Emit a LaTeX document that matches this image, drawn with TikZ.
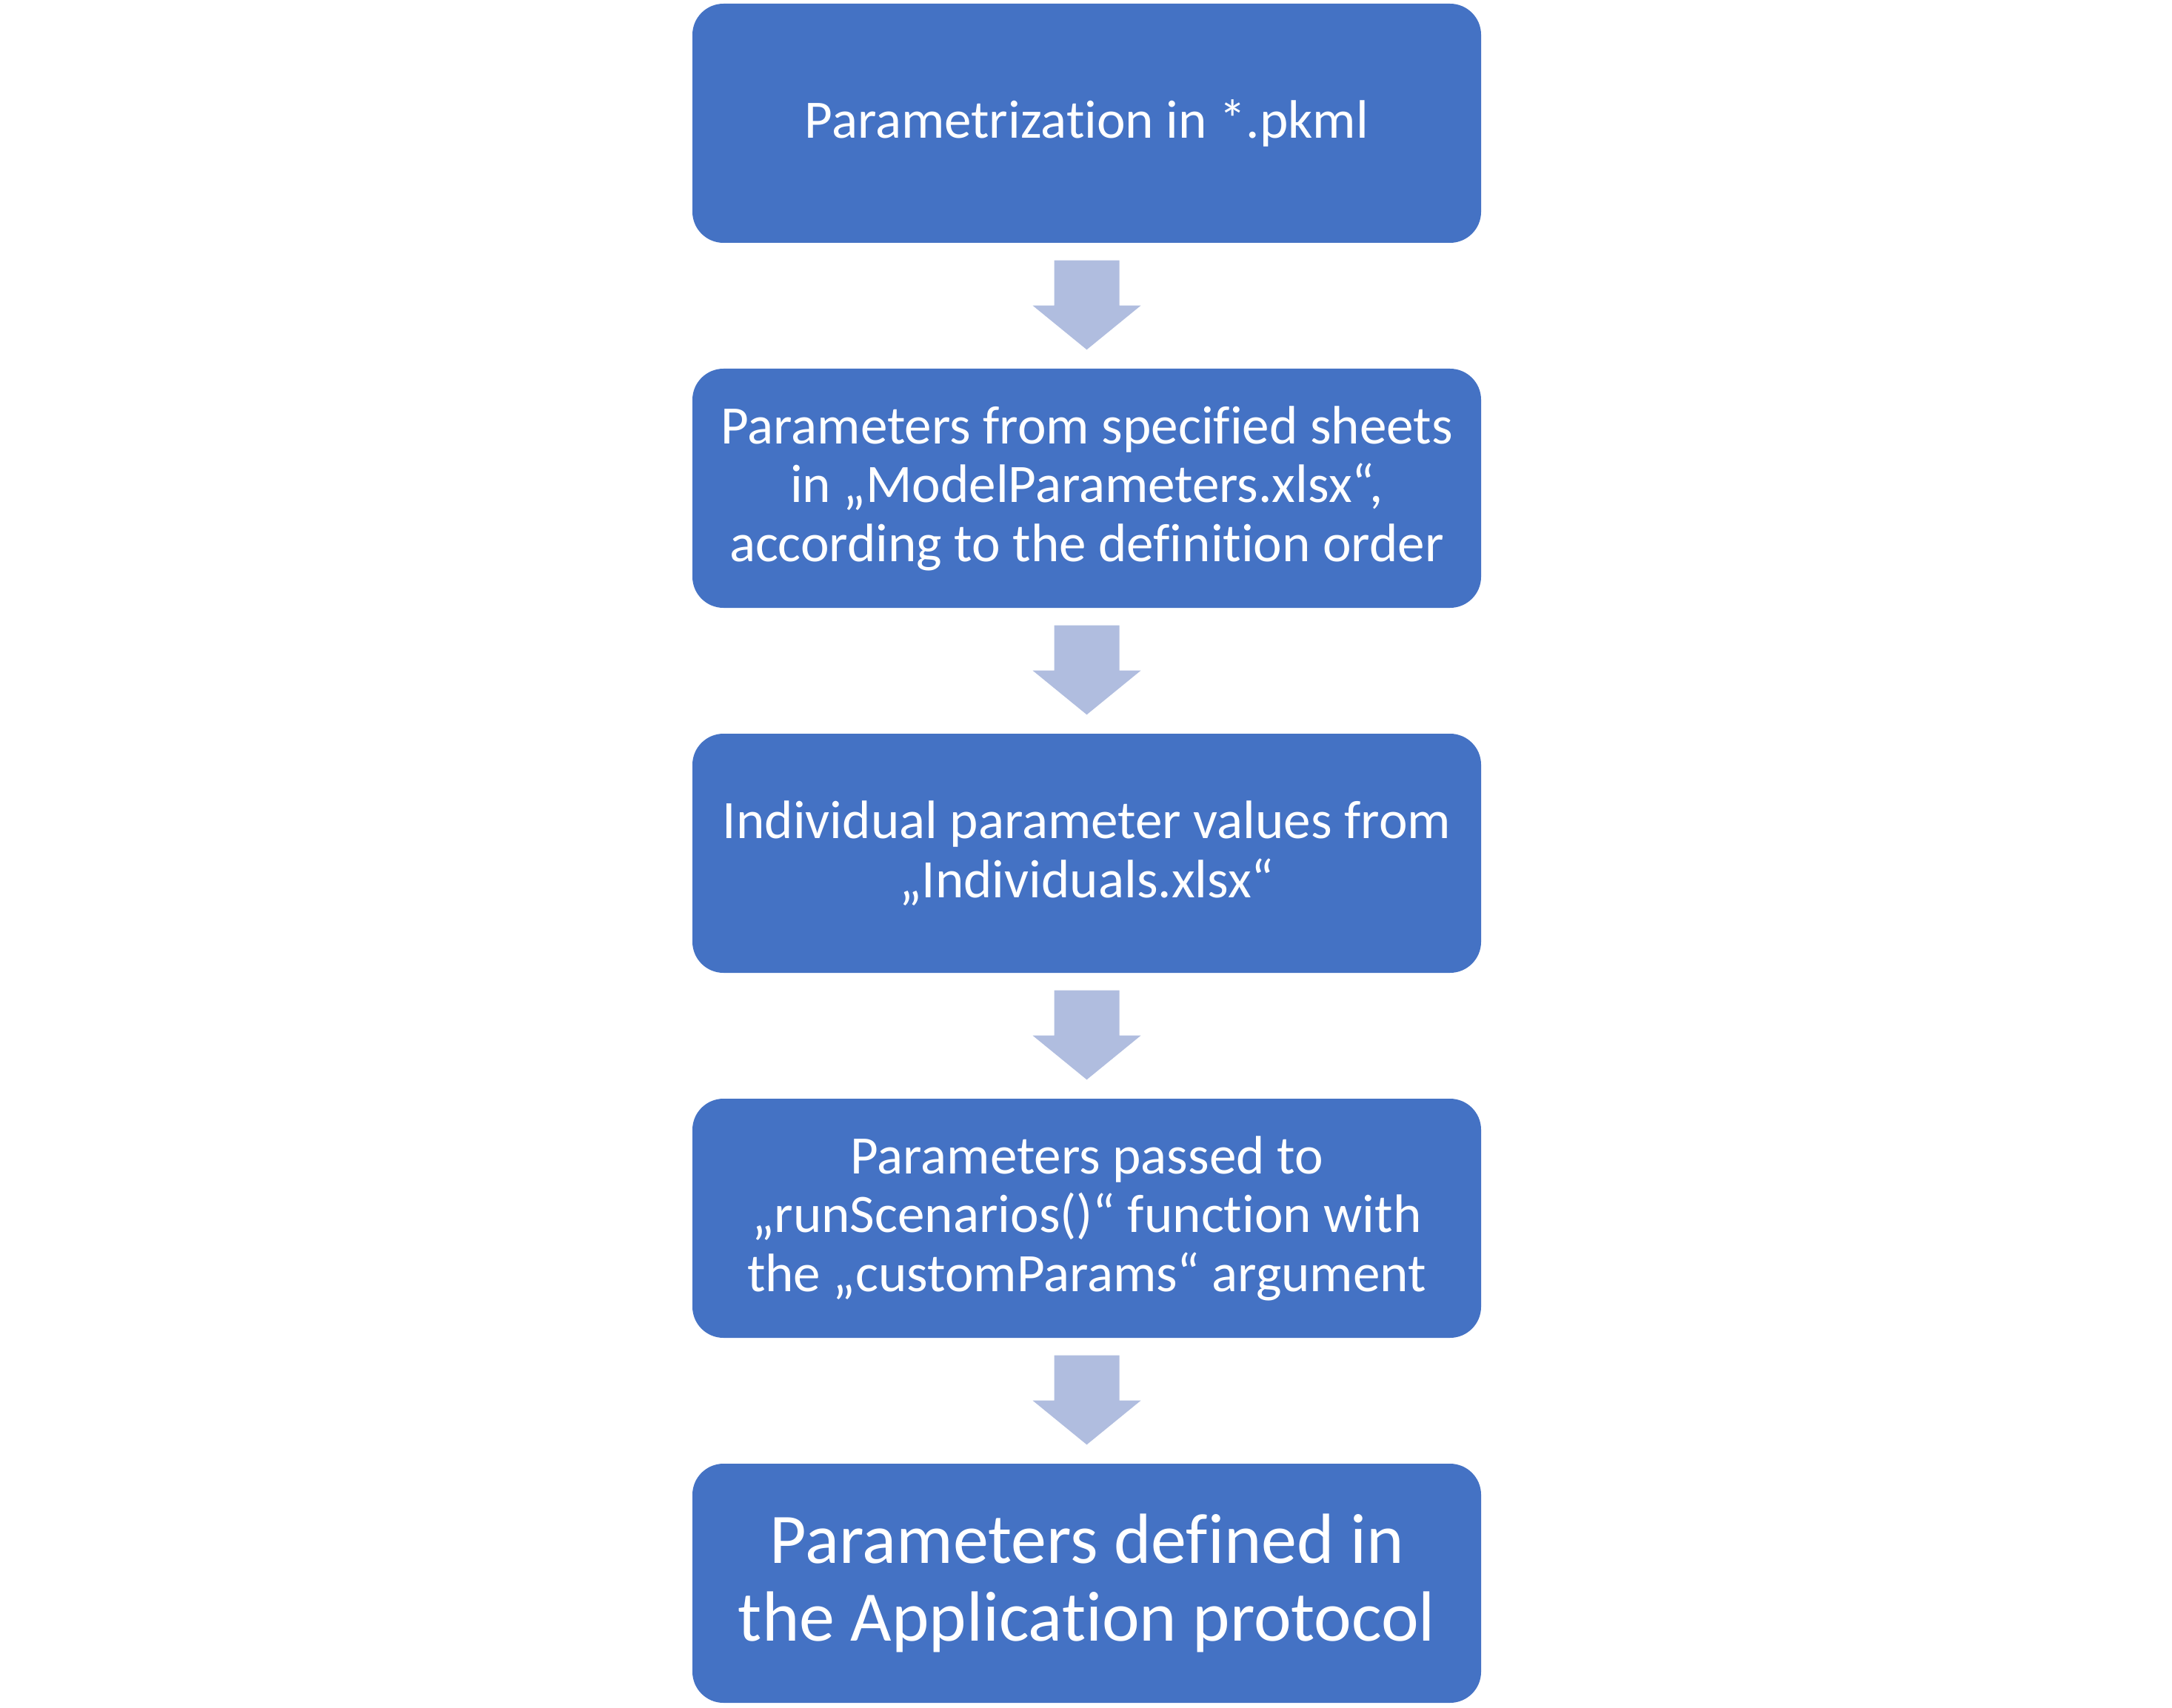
\documentclass[tikz,border=0pt]{standalone}
\usepackage{fontspec}
\setmainfont[Ligatures=NoCommon]{Carlito}
\usetikzlibrary{calc,positioning}
\definecolor{boxblue}{HTML}{4472C4}
\definecolor{arrowblue}{HTML}{B0BDDF}
\tikzset{
  stepbox/.style={fill=boxblue, draw=none, rounded corners=0.42cm, minimum width=10.65cm, minimum height=3.23cm, text=white, align=center, font=\fontsize{20.8}{22.6}\selectfont, inner sep=0pt},
  bigbox/.style={stepbox, font=\fontsize{27.3}{30}\selectfont},
  blockarrow/.style={fill=arrowblue, draw=none}
}
\newcommand{\blockarr}[2]{%
  \fill[blockarrow] ($(#1.south)+(-0.44,-0.23)$) -- ($(#1.south)+(0.44,-0.23)$) -- ($(#1.south)+(0.44,-0.84)$) -- ($(#1.south)+(0.73,-0.84)$) -- ($(#2.north)+(0,0.25)$) -- ($(#1.south)+(-0.73,-0.84)$) -- ($(#1.south)+(-0.44,-0.84)$) -- cycle;}
\begin{document}
\begin{tikzpicture}
\useasboundingbox (0,0) rectangle (29.33,-23.07);
\node[stepbox] (b1) at (14.675,-1.665) {Parametrization in *.pkml};
\node[stepbox] (b2) at (14.675,-6.595) {Parameters from specified sheets\\in „ModelParameters.xlsx“,\\according to the definition order};
\node[stepbox] (b3) at (14.675,-11.525) {Individual parameter values from\\„Individuals.xlsx“};
\node[stepbox] (b4) at (14.675,-16.455) {Parameters passed to\\„runScenarios()“ function with\\the „customParams“ argument};
\node[bigbox] (b5) at (14.675,-21.385) {Parameters defined in\\the Application protocol};
\blockarr{b1}{b2}
\blockarr{b2}{b3}
\blockarr{b3}{b4}
\blockarr{b4}{b5}
\end{tikzpicture}
\end{document}
